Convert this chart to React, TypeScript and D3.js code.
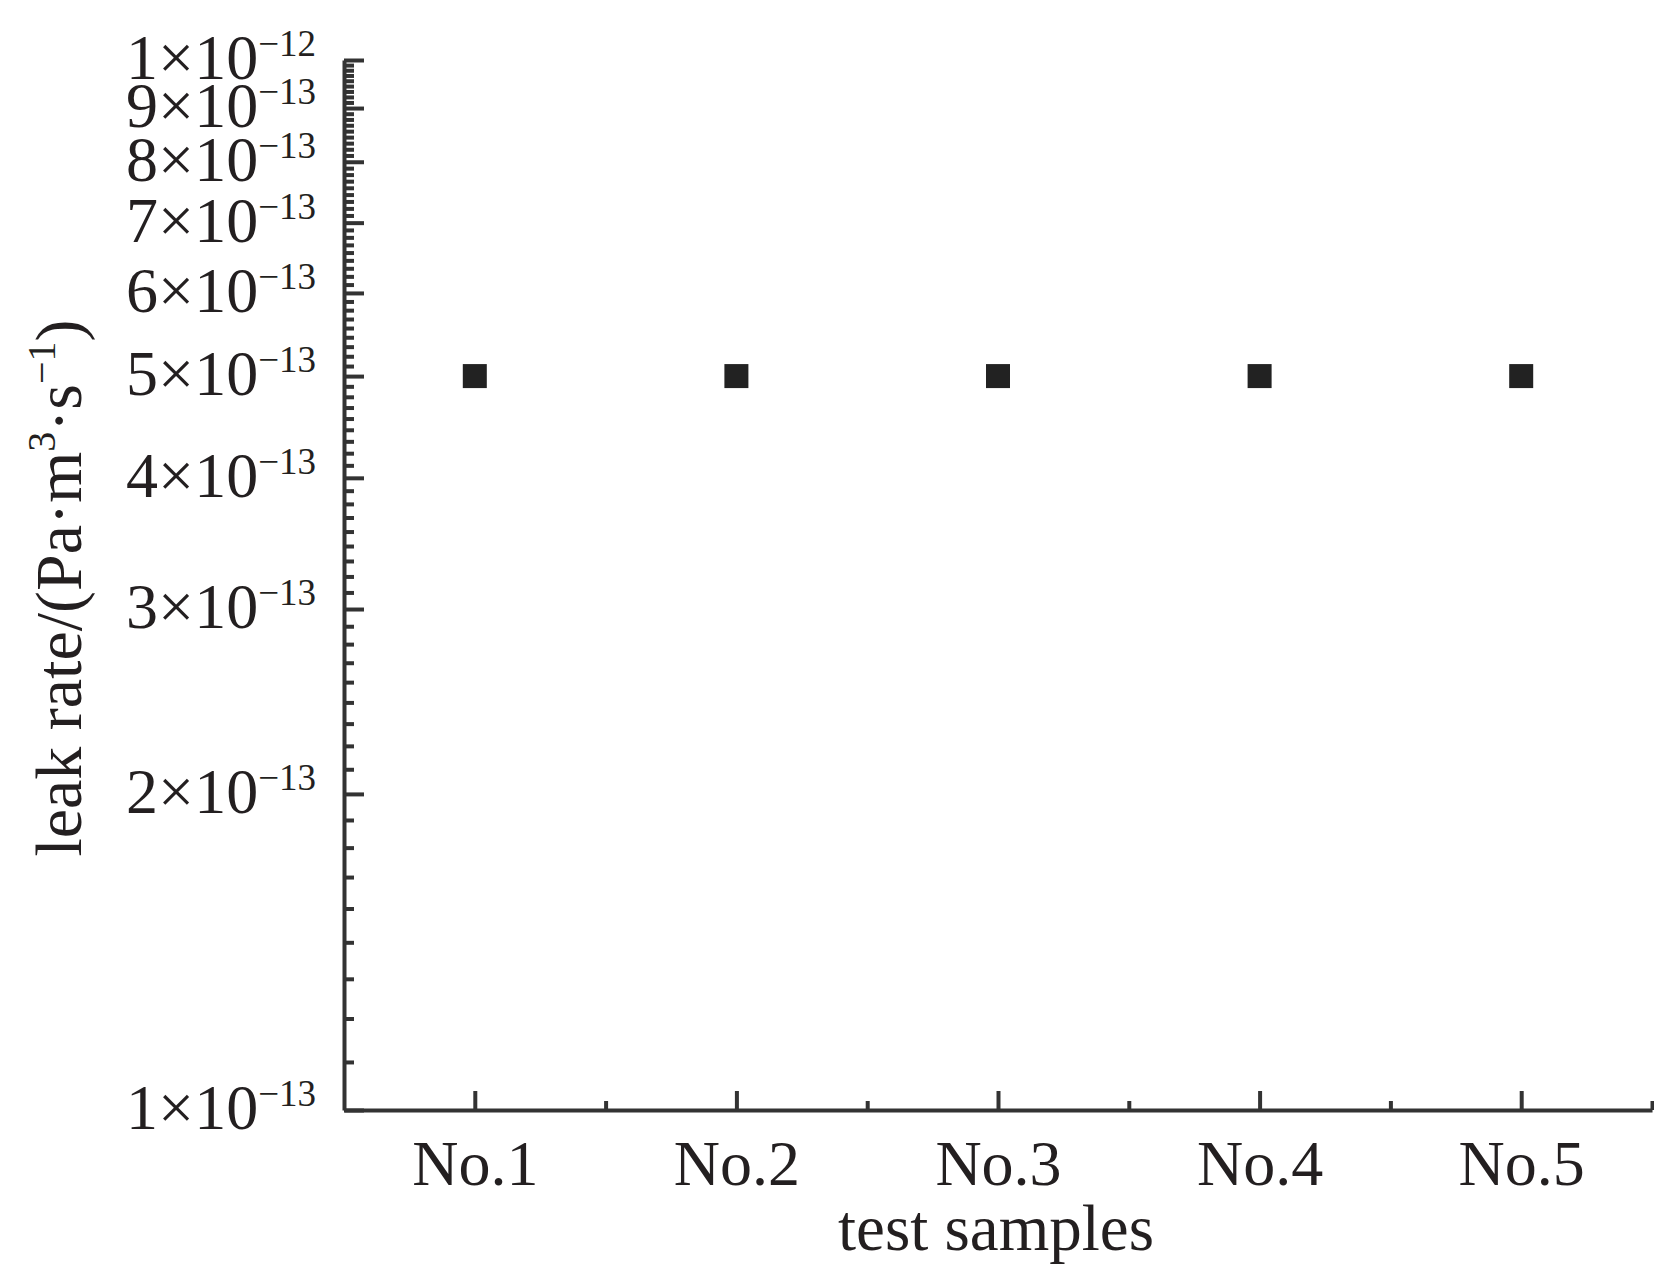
import { useEffect, useRef } from "react";
import * as d3 from "d3";

const samples = ["No.1", "No.2", "No.3", "No.4", "No.5"];
const leakRate = [5e-13, 5e-13, 5e-13, 5e-13, 5e-13];
const yMajorTicks = [1e-13, 2e-13, 3e-13, 4e-13, 5e-13, 6e-13, 7e-13, 8e-13, 9e-13, 1e-12];
const yTickMantissa = ["1", "2", "3", "4", "5", "6", "7", "8", "9", "1"];
const yTickExponent = ["−13", "−13", "−13", "−13", "−13", "−13", "−13", "−13", "−13", "−12"];

const width = 1654;
const height = 1272;
const FONT = "'Liberation Serif', 'Times New Roman', serif";
const INK = "#231f20";
const AXIS = "#333";

export default function App() {
  const svgRef = useRef<SVGSVGElement>(null);

  useEffect(() => {
    if (!svgRef.current) return;
    const svg = d3.select(svgRef.current);
    svg.selectAll("*").remove();

    const margin = { top: 60, right: 2, bottom: 162, left: 344 };
    const x0 = margin.left;
    const x1 = width - margin.right;
    const y0 = height - margin.bottom;
    const y1 = margin.top;

    const x = d3.scaleLinear().domain([0.5, samples.length + 0.5]).range([x0, x1]);
    const y = d3.scaleLog().domain([1e-13, 1e-12]).range([y0, y1]);

    // minor ticks: 8 between each pair of major ticks
    const yMinor: number[] = [];
    for (let i = 0; i < yMajorTicks.length - 1; i++) {
      const a = yMajorTicks[i];
      const b = yMajorTicks[i + 1];
      for (let j = 1; j <= 8; j++) yMinor.push(a + ((b - a) * j) / 9);
    }
    const xMinor = d3.range(1.5, samples.length + 1, 1);

    const g = svg.append("g");

    // y minor ticks
    g.append("g")
      .attr("transform", `translate(${x0},0)`)
      .call(d3.axisLeft(y).tickValues(yMinor).tickSizeInner(-10).tickSizeOuter(0).tickFormat(() => ""))
      .call((a) => a.select(".domain").remove());

    // y major ticks + domain
    g.append("g")
      .attr("transform", `translate(${x0},0)`)
      .call(d3.axisLeft(y).tickValues(yMajorTicks).tickSizeInner(-20).tickSizeOuter(0).tickFormat(() => ""));

    // x minor ticks
    g.append("g")
      .attr("transform", `translate(0,${y0})`)
      .call(d3.axisBottom(x).tickValues(xMinor).tickSizeInner(-9).tickSizeOuter(0).tickFormat(() => ""))
      .call((a) => a.select(".domain").remove());

    // x major ticks + labels
    const xAxis = g
      .append("g")
      .attr("transform", `translate(0,${y0})`)
      .call(
        d3
          .axisBottom(x)
          .tickValues(d3.range(1, samples.length + 1))
          .tickSizeInner(-19)
          .tickSizeOuter(0)
          .tickPadding(30)
          .tickFormat((d) => samples[(d as number) - 1])
      );
    xAxis
      .selectAll("text")
      .style("font-family", FONT)
      .style("font-size", "64px")
      .style("fill", INK);

    g.selectAll(".domain").attr("stroke", AXIS).attr("stroke-width", 4);
    g.selectAll(".tick line").attr("stroke", AXIS).attr("stroke-width", 4);

    // y tick labels
    const yLabels = svg.append("g");
    yMajorTicks.forEach((v, i) => {
      const t = yLabels
        .append("text")
        .attr("x", 316)
        .attr("y", y(v) + 19)
        .attr("text-anchor", "end")
        .style("font-family", FONT)
        .style("font-size", "64px")
        .style("fill", INK);
      t.append("tspan").text(`${yTickMantissa[i]}×10`);
      t.append("tspan").attr("dy", -23).style("font-size", "37px").text(yTickExponent[i]);
    });

    // data markers
    svg
      .append("g")
      .selectAll("rect")
      .data(leakRate)
      .join("rect")
      .attr("x", (_, i) => x(i + 1) - 12)
      .attr("y", (d) => y(d) - 12)
      .attr("width", 24)
      .attr("height", 24)
      .attr("fill", "#222");

    // x title
    svg
      .append("text")
      .attr("x", 996)
      .attr("y", 1250)
      .attr("text-anchor", "middle")
      .style("font-family", FONT)
      .style("font-size", "65px")
      .style("fill", INK)
      .text("test samples");

    // y title
    const yt = svg
      .append("text")
      .attr("transform", "translate(81,588) rotate(-90)")
      .attr("text-anchor", "middle")
      .style("font-family", FONT)
      .style("font-size", "66px")
      .style("fill", INK);
    yt.append("tspan").text("leak rate/(Pa·m");
    yt.append("tspan").attr("dy", -26).style("font-size", "40px").text("3");
    yt.append("tspan").attr("dy", 26).text("·s");
    yt.append("tspan").attr("dy", -26).style("font-size", "40px").text("−1");
    yt.append("tspan").attr("dy", 26).text(")");
  }, []);

  return (
    <svg
      ref={svgRef}
      width={width}
      height={height}
      style={{ position: "absolute", left: 0, top: 0, background: "#fff" }}
    />
  );
}
